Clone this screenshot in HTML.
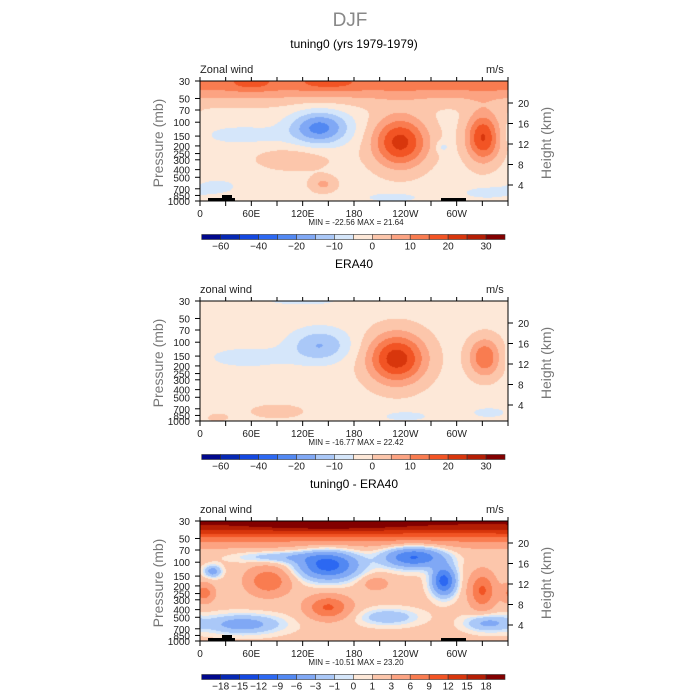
<!DOCTYPE html>
<html><head><meta charset="utf-8">
<style>
body{margin:0;background:#fff;}
#root{position:relative;width:700px;height:700px;overflow:hidden;font-family:"Liberation Sans",sans-serif;}
canvas{position:absolute;}
svg{position:absolute;left:0;top:0;}
.t{position:absolute;white-space:nowrap;}
</style></head>
<body><div id="root">
<div class="t" style="left:0;width:700px;text-align:center;top:10px;font-size:19px;color:#888;">DJF</div>
<canvas id="c0" width="308" height="120" style="left:200px;top:81px"></canvas>
<canvas id="c1" width="308" height="120" style="left:200px;top:301px"></canvas>
<canvas id="c2" width="308" height="120" style="left:200px;top:521px"></canvas>
<svg id="ov" width="700" height="700"></svg>
</div>
<script>
// Data: blobs are [lon, s(log-pressure 0..1), amplitude, lonWidth, sWidth]
const panelTitles = ["tuning0 (yrs 1979-1979)", "ERA40", "tuning0 - ERA40"];
const panelLabels = ["Zonal wind", "zonal wind", "zonal wind"];
const panelMinMax = ["MIN = -22.56   MAX =  21.64", "MIN = -16.77   MAX =  22.42", "MIN = -10.51   MAX =  23.20"];
const stratTop = [15, 0, 17];
const stratWidth = [0.16, 0.1, 0.15];
const baseVal = [-2, -2, 1.5];
const blobs1 = [[140,0.39,-20,34,0.14],[50,0.45,-5,55,0.09],[234,0.51,24,32,0.21],[331,0.47,23,20,0.2],[284,0.55,-6,8,0.05],[144,0.86,8,16,0.07],[110,0.65,5.5,45,0.1],[20,0.88,-5,26,0.07],[225,0.97,-5,38,0.05],[335,0.93,-6,28,0.05],[60,0.02,5,22,0.06],[150,0.02,5,30,0.05]];
const blobs2 = [[140,0.37,-13,35,0.14],[55,0.47,-5,55,0.1],[120,0.0,-5,50,0.04],[230,0.48,25,34,0.21],[333,0.47,17,19,0.16],[240,0.96,-5,32,0.05],[338,0.93,-5,24,0.05],[90,0.92,5,32,0.06],[20,0.97,4,15,0.04]];
const blobs3 = [[150,0.37,-12,35,0.12],[250,0.3,-11,35,0.09],[285,0.5,-12,14,0.12],[50,0.86,-6,45,0.08],[220,0.8,-4,35,0.07],[335,0.85,-5,25,0.07],[15,0.42,-6,10,0.05],[90,0.3,-4,50,0.05],[80,0.5,7,25,0.12],[150,0.72,8,25,0.1],[330,0.58,8,15,0.15],[5,0.6,6,12,0.08],[205,0.52,3,18,0.07],[150,0.02,5,80,0.05]];
const allBlobs = [blobs1, blobs2, blobs3];
const levels12 = [-60,-50,-40,-30,-20,-15,-10,-5,0,5,10,15,20,25,30];
const levels3 = [-18,-15,-12,-9,-6,-3,-1,0,1,3,6,9,12,15,18];
const cbLabels12 = ["-60","","-40","","-20","","-10","","0","","10","","20","","30"];
const cbLabels3 = ["-18","-15","-12","-9","-6","-3","-1","0","1","3","6","9","12","15","18"];
const colors = ["#00088c","#0628b4","#1448e0","#2c68f2","#5288f2","#80a8f5","#aac8f8","#d5e6fa","#fde8d8","#fcc6ab","#fca382","#f97c50","#f25424","#d8360c","#b41e04","#820000"];
const pTicks = [30,50,70,100,150,200,250,300,400,500,700,850,1000];
const hTicks = [4,8,12,16,20];
const lonLabels = ["0","60E","120E","180","120W","60W"];

const X0=200,W=308,H=120, tops=[81,301,521];
const NS='http://www.w3.org/2000/svg';
const sv=document.getElementById('ov');
function sY(p){return Math.log(p/30)/Math.log(1000/30)*H;}
function lonX(l){return l/360*W;}
function field(k,lon,s){
  let v=baseVal[k]+stratTop[k]*Math.exp(-Math.pow(s/stratWidth[k],2));
  for(const b of allBlobs[k]){
    let d=Math.abs(lon-b[0]); if(d>180)d=360-d;
    v+=b[2]*Math.exp(-Math.pow(d/b[3],2)-Math.pow((s-b[1])/b[4],2));
  }
  return v;
}
function colorFor(v,lv){let i=0;while(i<lv.length&&v>=lv[i])i++;return colors[i];}
function el(tag,attrs,txt){const e=document.createElementNS(NS,tag);for(const a in attrs)e.setAttribute(a,attrs[a]);if(txt!==undefined)e.textContent=txt;sv.appendChild(e);return e;}
for(let k=0;k<3;k++){
  const lv=k<2?levels12:levels3;
  const ctx=document.getElementById('c'+k).getContext('2d');
  for(let y=0;y<H;y++)for(let x=0;x<W;x++){
    ctx.fillStyle=colorFor(field(k,(x+0.5)/W*360,(y+0.5)/H),lv);ctx.fillRect(x,y,1,1);
  }
  const T=tops[k];
  let t=el('text',{x:354,y:T-33,'text-anchor':'middle','font-size':12,fill:'#000'},panelTitles[k]);
  
  
  t=el('text',{x:200,y:T-8,'font-size':11,fill:'#222'},panelLabels[k]);
  
  
  t=el('text',{x:486,y:T-8,'font-size':11,fill:'#222'},'m/s');
  
  
  if(k!==1){
    el('rect',{x:208,y:T+117,width:27,height:3,fill:'#000'});
    el('rect',{x:222,y:T+114,width:10,height:4,fill:'#000'});
    el('rect',{x:441,y:T+117,width:25,height:3,fill:'#000'});
  }
  const fr=el('rect',{x:X0,y:T,width:W,height:H,fill:'none',stroke:'#000','stroke-width':1});
  
  
  for(let l=0;l<=360;l+=30){const x=X0+lonX(l);
    el('line',{x1:x,x2:x,y1:T,y2:T-4,stroke:'#000'});el('line',{x1:x,x2:x,y1:T+H,y2:T+H+5,stroke:'#000'});}
  lonLabels.forEach((s,i)=>{const e=el('text',{x:X0+lonX(i*60),y:T+H+16,'text-anchor':'middle','font-size':10,fill:'#222'},s);
    
    });
  for(const p of pTicks){const y=T+sY(p);el('line',{x1:X0,x2:X0-5,y1:y,y2:y,stroke:'#000'});
    const e=el('text',{x:190,y:y+4,'text-anchor':'end','font-size':10,fill:'#222'},String(p));
    
    }
  for(const h of hTicks){const y=T+124.5-h*5.125;el('line',{x1:X0+W,x2:X0+W+5,y1:y,y2:y,stroke:'#000'});
    const e=el('text',{x:518,y:y+4,'font-size':10,fill:'#222'},String(h));
    
    }
  t=el('text',{x:0,y:0,'text-anchor':'middle','font-size':14,fill:'#777',transform:`translate(163,${T+62}) rotate(-90)`},'Pressure (mb)');
  
  
  t=el('text',{x:0,y:0,'text-anchor':'middle','font-size':14,fill:'#777',transform:`translate(551,${T+62}) rotate(-90)`},'Height (km)');
  
  
  t=el('text',{x:356,y:T+H+24,'text-anchor':'middle','font-size':8,fill:'#222'},panelMinMax[k]);
  
  
  const cy=T+153.5,bw=(505-201.7)/16;
  for(let i=0;i<16;i++){const r=el('rect',{x:201.7+i*bw,y:cy,width:bw,height:5,fill:colors[i],stroke:'#333','stroke-width':0.6});
    
    }
  const labs=k<2?cbLabels12:cbLabels3;
  labs.forEach((s,i)=>{if(!s)return;const e=el('text',{x:201.7+(i+1)*bw,y:cy+15,'text-anchor':'middle','font-size':10,fill:'#222'},s.replace('-','\u2212'));
    
    });
}
</script>
</body></html>
